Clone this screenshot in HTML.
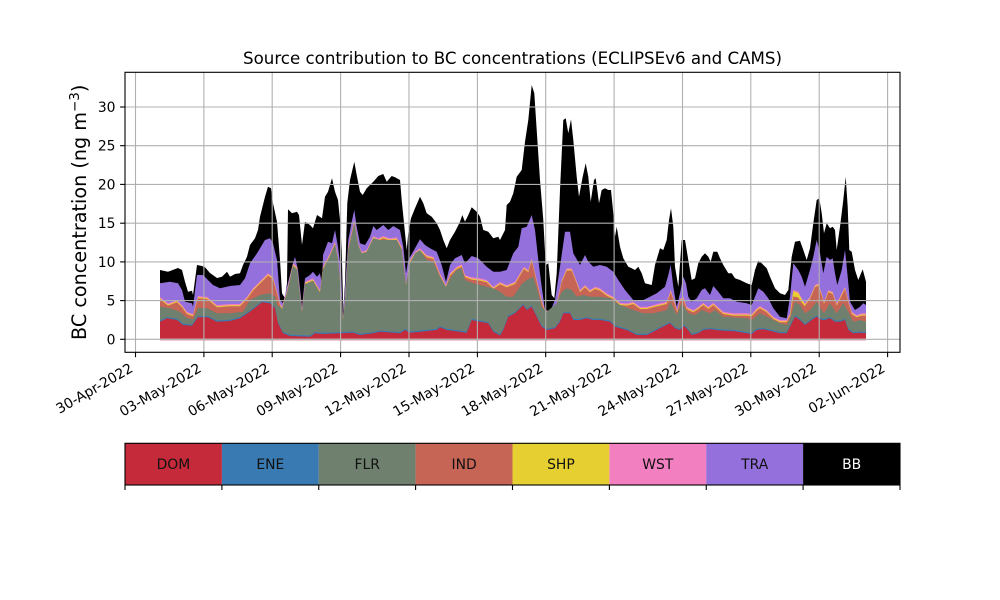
<!DOCTYPE html>
<html>
<head>
<meta charset="utf-8">
<style>
html,body{margin:0;padding:0;background:#fff;}
svg{display:block;}
text{font-family:"DejaVu Sans","Liberation Sans",sans-serif;}
</style>
</head>
<body>
<svg width="1000" height="600" viewBox="0 0 1000 600" xmlns="http://www.w3.org/2000/svg" xmlns:xlink="http://www.w3.org/1999/xlink">
<defs>
<clipPath id="pa"><rect x="125" y="72.3" width="775" height="267"/></clipPath>
<polygon id="wstp" points="160,339.3 160,297 168,303.3 177,300 182,305 187,311.7 193,314 198,296 207,296.7 217,305 230,304 240,304 247,296.7 253,288.3 263,278.3 268,273.3 273,276.7 277,291.7 280,303.3 282,306.7 287,290 293,263.3 297,266.7 302,310 305,281.7 313,278.3 320,290 323,266.7 330,253.3 335,241.7 338,256.7 341,290 343,318 345,300 348.3,246.7 354.3,220 358.3,243.3 361.7,251.7 366.7,250 373.3,236 378.3,238.3 383.3,236 390,238.3 396.7,237.3 401.7,246.7 406,283.3 410,260 415,251.7 420,248.3 426.7,255 433.3,256.7 440,273.3 446,285 450,273.3 456.7,266.7 461.7,264.3 465,275 471.7,277.3 480,278.3 486.7,280 493.3,286.7 500,282 506.7,285 515,281.7 520,273.3 524,266.7 528.3,270 531.7,258.3 536.7,280 541.7,300 545,310 551.7,311.7 556.7,303.3 561.7,280 566.7,268.3 571.7,268.3 575,276.7 580,290 585,285 590,290 595,286.7 600,288.3 606.7,293.3 613.3,296.7 620,302.7 626.7,303.3 633.3,301.7 640,306.7 646.7,306.7 653.3,305 660,303.3 666.7,301.7 670.7,290 674,300 677.3,310 680,299 683.3,296.7 686.7,306.7 693.3,310 698.3,306.7 703.3,302.7 708.3,306.7 713.3,302.7 718.3,307.3 723.3,311.7 733.3,313.3 746.7,313.3 751.7,314 756.7,308.3 760,306 766.7,310 773.3,316.7 780,320 786.7,320 790,313.3 793.3,290 798.3,291.7 801.7,298.3 805,303.3 810,296.7 815,285 818.3,283.3 821.7,293.3 824,301.7 828.3,290 832.7,291.7 836.7,303.3 841.7,293.3 845,286.7 848.3,300 851.7,311.7 856.7,315 861.7,313.3 866,313.3 866,339.3"/>
<polygon id="domp" points="160,340.5 160,321.7 167,318.3 177,320 183,325 192,325.7 198,317.3 208,317.3 217,321.7 230,321 240,318.3 250,311.7 262,302.3 270,303.3 275,308.3 278,323.3 283,333.3 290,336 310,336.7 315,333.3 323,334 340,333.3 353.3,332.7 360,335 373.3,333.3 380,331.7 400,333.3 405,330 410,332.7 420,331.7 436.7,330 440,327.3 446.7,330 466.7,332.7 471.7,320 480,321.7 488.3,323.3 493.3,331.7 500,335.5 503.3,330 508.3,316.7 515,313.3 520,308.3 523.3,305 526.7,310 531.7,306.7 536.7,316.7 541.7,326.7 546.7,330 555,328.3 560,321.7 563.3,313.3 570,313.3 573.3,320 580,320 586.7,318.3 593.3,320 600,320 610,321.7 615,326.7 626.7,330 636.7,335 646.7,335 653.3,331.7 660,328.3 670,323.3 675,328.3 680,330 683.3,326 686.7,328.3 691.7,335 698.3,333.3 703.3,330 710,329.3 716.7,330 723.3,330.7 733.3,331 746.7,333.3 751.7,334 756.7,330 763.3,329.3 770,330.7 780,333.3 786.7,333.3 790,326.7 795,316.7 800,320 805,325 811.7,320 816.7,316.7 821.7,320 825,320 830,318.3 835,321.7 840,321.7 845,320 848.3,330 853.3,333.3 860,332.7 866,333.3 866,340.5"/>
</defs>
<rect x="0" y="0" width="1000" height="600" fill="#fff"/>

<g clip-path="url(#pa)">
<!-- BB -->
<polygon fill="#000" points="160,339.3 160,270 168,271.7 178,268 182,270 185,281.7 188,291.7 192,290.7 193,295 197,265 202,266 205,267.3 210,273 217,278 222,276.7 227,271.7 230,276.7 235,274 240,273.3 243,265 247,256.7 250,245 255,238.3 258,230 260,216.7 265,196.7 268,186.7 271,188.3 273,203.3 277,221.7 280,260 282,293.3 285,298.3 287,283 288,209.3 292,213.3 297,211.7 299,215 302,245 305,221.7 310,225 313,228.3 317,215 322,218.3 325,196.7 328,191.7 332,178.3 335,191.7 338,200 340,220 341.7,250 343.3,311 345,283 347.3,203 350,180 354.3,161.7 356.7,175 360,191.7 362.7,195 366.7,188.3 373.3,181.7 378.3,176 383.3,174 386.7,181.7 391.7,176 395,177.3 400,180 401.7,200 405,233 406.7,250 408.3,233 411,218.3 415,208.3 420,196.7 423.3,203.3 426.7,213.3 431.7,216.7 436.7,223.3 440,230 443.3,240 446.7,248.3 450,240 455,231.7 460,221.7 462.3,215 465,221.7 468.3,215 471.7,207.3 476.7,211.7 480,216.7 483.3,230 488.3,231.7 493.3,238.3 498.3,236.7 500,240 505,230 506.7,205 510,201.7 513.3,193.3 516.7,176.7 521.7,170 525,141.7 528.3,120 531.7,85 534.3,93.3 536.7,130 540,180 543.3,220 545.7,265 548.3,263.3 551.7,295 554.3,298.3 556.7,273.3 560,190 563.3,120 565.7,118.3 568.3,133.3 571,119.3 573.3,140 576.7,176.7 579,196.7 582.7,176.7 585.7,163.3 588.3,176.7 590.7,201.7 594,180 595.7,178.3 597.7,193.3 599,203.3 601.7,190 605,188.3 608.3,190 611,190 613.3,213.3 615,236.7 616.7,226.7 620,246.7 623.3,258.3 628.3,266.7 631.7,268.3 635,270 638.3,266.7 641.7,273.3 645,283.3 651.7,285 655,265 660,248.3 663.3,250 666.7,240 669,220 671,208.3 673.3,226.7 675,266.7 678.3,286.7 681.7,240 685,240 688.3,260 691.7,280 695,278.3 698.3,263.3 701.7,256.7 705,253.3 708.3,256.7 710.7,261.7 713.3,251.7 717.3,251.7 720,258.3 723.3,265 728.3,273.3 731.7,273.3 735,278.3 740,280 746.7,283.3 751.7,285 755,270 758.3,260.7 761.7,263.3 766.7,268.3 770,276.7 775,288.3 780,293.3 785,295 788.3,290 791.7,256.7 795,241.7 800,240.7 803.3,250 806.7,260 810,248.3 813.3,223.3 816.7,200 819.3,198.3 821.7,213.3 824,233.3 826.7,223.3 830,228.3 832.7,226.7 835,230 836.7,250 840,226.7 843.3,200 845.7,176.7 847.7,206.7 849.3,250 851.7,251.7 855,270 858.3,280 862.7,269.3 866,281.7 866,339.3"/>
<!-- TRA -->
<polygon fill="#9370db" points="160,339.3 160,283.3 170,281.7 178,283.3 182,290 185,301.7 192,303.3 193,306.7 197,275 203,275 213,285 220,288.3 230,286 240,285 245,278.3 250,263.3 257,253.3 265,240 270,238.3 273,243.3 277,260 280,300 283,303.3 287,286.7 292,266.7 295,256.7 298,270 302,306.7 305,278.3 310,275 313,271.7 317,276.7 320,273.3 322,285 323,255 328,241.7 332,243.3 335,230 338,246.7 341,270 343,317 345,290 348.3,240 351.7,221.7 354.3,210 356.7,226.7 360,243.3 365,245 370,236.7 373.3,226 376.7,230 383.3,225 388.3,230 393.3,226 400,230 403.3,246.7 406,273.3 408.3,260 415,248.3 420,239.3 425,245 430,248.3 436.7,251.7 441.7,265 446,281.7 450,265 455,258.3 461.7,255 465,263.3 471.7,256 478.3,258.3 486.7,266.7 493.3,271.7 500,271.7 506.7,270 513.3,253.3 518.3,246.7 521.7,228.3 526.7,226.7 531.7,215 535,230 538.3,260 541.7,286.7 545,310 550,311.7 555,300 560,266.7 565,231.7 570,231.7 573.3,253.3 580,265 585,255 588.3,261.7 593.3,266.7 600,265 606.7,266.7 613.3,271.7 618.3,280 625,290 633.3,300 643.3,300 650,296.7 656.7,293.3 665,286.7 668.3,275 670.7,265 673.3,286.7 676.7,306.7 680,293.3 683.3,276.7 686,283.3 688.3,296.7 691.7,301.7 696.7,298.3 701.7,290 705,288.3 710,295 713.3,286 718.3,291.7 723.3,298.3 730,298.3 736.7,301.7 746.7,303.3 751.7,305 755,296.7 758.3,288.3 763.3,291.7 768.3,298.3 773.3,308.3 780,316.7 786.7,318.3 790,296.7 793.3,263.3 798.3,270 801.7,276.7 805,286.7 810,270 813.3,256.7 816.7,240 820,253.3 823.3,273.3 826.7,256.7 830,260 832.7,258.3 835,273.3 837.3,285 841.7,270 845,250 847.7,276.7 850,301.7 855,310 860,306.7 863.3,303.3 866,305 866,339.3"/>
<!-- WST / SHP / IND -->
<use href="#wstp" xlink:href="#wstp" fill="#f27fbf"/>
<use href="#wstp" xlink:href="#wstp" fill="#e6cf30" transform="translate(0,1.3)"/>
<use href="#wstp" xlink:href="#wstp" fill="#c66556" transform="translate(0,2.3)"/>
<!-- extra SHP bump near 28-May -->
<polygon fill="#e6cf30" points="790,315 793.3,291.3 798.3,293 801.7,299.5 805,304.5 805,306.5 801.7,302.5 798.3,297.5 793.3,296.5 790,317"/>
<!-- FLR -->
<polygon fill="#6f806f" points="160,339.3 160,306.7 170,308.3 180,311.7 187,318 193,319.3 198,308 207,308.3 217,313.3 230,313.3 243,311.7 250,300 260,295 270,293.3 275,296.7 278,306.7 280,306 282,309.3 287,292.5 293,265.8 297,269.2 302,312.5 305,284.2 313,280.8 320,292.5 323,269.2 330,255.8 335,244.2 338,259.2 341,292.5 343,320 345,302 348.3,250 354.3,223.3 358.3,245 361.7,253.3 366.7,251.7 373.3,238.3 380,240 396.7,240 401.7,250 406,285 410,263.3 415,253.3 420,250 426.7,260 433.3,261.7 440,276.7 446,286.7 450,278.3 456.7,270 461.7,268.3 465,280 473.3,283.3 480,285 486.7,286.7 493.3,288.3 500,291.7 506.7,296.7 513.3,296.7 521.7,284 526.7,280 533.3,276.7 538.3,293.3 541.7,306.7 546.7,311.7 556.7,303.3 561.7,291.7 566.7,288.3 571.7,290 576.7,296.7 583.3,295 590,296.7 600,296.7 610,298.3 615,301.7 620,305 633.3,310 643.3,313.3 653.3,313.3 660,311.7 666.7,310 670.7,301.7 676.7,315 681.7,303 688.3,313.3 695,315 701.7,310 710,313.3 715,310 723.3,316.7 746.7,318.3 751.7,320 760,313.3 770,318.3 780,323.3 786.7,325 790,318.3 795,301.7 800,305 805,313.3 810,310 816.7,301.7 821.7,310 824,313.3 830,303.3 836.7,313.3 843.3,303.3 848.3,311.7 853.3,321.7 860,320 866,321.7 866,339.3"/>
<!-- ENE + DOM -->
<use href="#domp" xlink:href="#domp" fill="#3a7ab2" transform="translate(0,-1.2)"/>
<use href="#domp" xlink:href="#domp" fill="#c42a39"/>
</g>
<!-- pink baseline band -->
<rect x="160" y="338.6" width="706" height="2" fill="#e0a3ac"/>

<!-- grid -->
<g stroke="#b0b0b0" stroke-width="1.1">
<line x1="125" x2="900" y1="339.3" y2="339.3"/>
<line x1="125" x2="900" y1="300.6" y2="300.6"/>
<line x1="125" x2="900" y1="261.9" y2="261.9"/>
<line x1="125" x2="900" y1="223.2" y2="223.2"/>
<line x1="125" x2="900" y1="184.4" y2="184.4"/>
<line x1="125" x2="900" y1="145.7" y2="145.7"/>
<line x1="125" x2="900" y1="107.0" y2="107.0"/>
<line y1="72.3" y2="352.3" x1="135.5" x2="135.5"/>
<line y1="72.3" y2="352.3" x1="203.9" x2="203.9"/>
<line y1="72.3" y2="352.3" x1="272.2" x2="272.2"/>
<line y1="72.3" y2="352.3" x1="340.6" x2="340.6"/>
<line y1="72.3" y2="352.3" x1="409.0" x2="409.0"/>
<line y1="72.3" y2="352.3" x1="477.4" x2="477.4"/>
<line y1="72.3" y2="352.3" x1="545.7" x2="545.7"/>
<line y1="72.3" y2="352.3" x1="614.1" x2="614.1"/>
<line y1="72.3" y2="352.3" x1="682.5" x2="682.5"/>
<line y1="72.3" y2="352.3" x1="750.8" x2="750.8"/>
<line y1="72.3" y2="352.3" x1="819.2" x2="819.2"/>
<line y1="72.3" y2="352.3" x1="887.6" x2="887.6"/>
</g>

<!-- spines -->
<rect x="125" y="72.3" width="775" height="280" fill="none" stroke="#000" stroke-width="1.1"/>

<!-- ticks -->
<g stroke="#000" stroke-width="1.1">
<line x1="120.1" x2="125" y1="339.3" y2="339.3"/>
<line x1="120.1" x2="125" y1="300.6" y2="300.6"/>
<line x1="120.1" x2="125" y1="261.9" y2="261.9"/>
<line x1="120.1" x2="125" y1="223.2" y2="223.2"/>
<line x1="120.1" x2="125" y1="184.4" y2="184.4"/>
<line x1="120.1" x2="125" y1="145.7" y2="145.7"/>
<line x1="120.1" x2="125" y1="107.0" y2="107.0"/>
<line y1="352.3" y2="357.2" x1="135.5" x2="135.5"/>
<line y1="352.3" y2="357.2" x1="203.9" x2="203.9"/>
<line y1="352.3" y2="357.2" x1="272.2" x2="272.2"/>
<line y1="352.3" y2="357.2" x1="340.6" x2="340.6"/>
<line y1="352.3" y2="357.2" x1="409.0" x2="409.0"/>
<line y1="352.3" y2="357.2" x1="477.4" x2="477.4"/>
<line y1="352.3" y2="357.2" x1="545.7" x2="545.7"/>
<line y1="352.3" y2="357.2" x1="614.1" x2="614.1"/>
<line y1="352.3" y2="357.2" x1="682.5" x2="682.5"/>
<line y1="352.3" y2="357.2" x1="750.8" x2="750.8"/>
<line y1="352.3" y2="357.2" x1="819.2" x2="819.2"/>
<line y1="352.3" y2="357.2" x1="887.6" x2="887.6"/>
</g>

<!-- y tick labels -->
<g font-size="13.9" text-anchor="end" fill="#000">
<text x="115.5" y="344.3">0</text>
<text x="115.5" y="305.6">5</text>
<text x="115.5" y="266.9">10</text>
<text x="115.5" y="228.2">15</text>
<text x="115.5" y="189.4">20</text>
<text x="115.5" y="150.7">25</text>
<text x="115.5" y="112.0">30</text>
</g>

<!-- x tick labels -->
<g font-size="13.9" text-anchor="end" fill="#000">
<text x="133.9" y="371" transform="rotate(-30 133.9 371)">30-Apr-2022</text>
<text x="202.3" y="371" transform="rotate(-30 202.3 371)">03-May-2022</text>
<text x="270.6" y="371" transform="rotate(-30 270.6 371)">06-May-2022</text>
<text x="339.0" y="371" transform="rotate(-30 339.0 371)">09-May-2022</text>
<text x="407.4" y="371" transform="rotate(-30 407.4 371)">12-May-2022</text>
<text x="475.8" y="371" transform="rotate(-30 475.8 371)">15-May-2022</text>
<text x="544.1" y="371" transform="rotate(-30 544.1 371)">18-May-2022</text>
<text x="612.5" y="371" transform="rotate(-30 612.5 371)">21-May-2022</text>
<text x="680.9" y="371" transform="rotate(-30 680.9 371)">24-May-2022</text>
<text x="749.2" y="371" transform="rotate(-30 749.2 371)">27-May-2022</text>
<text x="817.6" y="371" transform="rotate(-30 817.6 371)">30-May-2022</text>
<text x="886.0" y="371" transform="rotate(-30 886.0 371)">02-Jun-2022</text>
</g>

<!-- title -->
<text x="512.5" y="64" font-size="16.67" text-anchor="middle" fill="#000">Source contribution to BC concentrations (ECLIPSEv6 and CAMS)</text>

<!-- y label -->
<text x="86" y="212.3" font-size="19.2" text-anchor="middle" fill="#000" transform="rotate(-90 86 212.3)">BC concentration (ng m<tspan font-size="13.5" dy="-7">−3</tspan><tspan dy="7">)</tspan></text>

<!-- legend colorbar -->
<rect x="125" y="443.3" width="96.9" height="41.7" fill="#c42a39"/>
<rect x="221.9" y="443.3" width="96.9" height="41.7" fill="#3a7ab2"/>
<rect x="318.75" y="443.3" width="96.9" height="41.7" fill="#6f806f"/>
<rect x="415.6" y="443.3" width="96.9" height="41.7" fill="#c66556"/>
<rect x="512.5" y="443.3" width="96.9" height="41.7" fill="#e6cf30"/>
<rect x="609.4" y="443.3" width="96.9" height="41.7" fill="#f27fbf"/>
<rect x="706.25" y="443.3" width="96.9" height="41.7" fill="#9370db"/>
<rect x="803.1" y="443.3" width="96.9" height="41.7" fill="#000"/>
<rect x="125" y="443.3" width="775" height="41.7" fill="none" stroke="#000" stroke-width="1.1"/>
<g stroke="#000" stroke-width="1.1">
<line x1="125" x2="125" y1="485" y2="490"/>
<line x1="221.9" x2="221.9" y1="485" y2="490"/>
<line x1="318.75" x2="318.75" y1="485" y2="490"/>
<line x1="415.6" x2="415.6" y1="485" y2="490"/>
<line x1="512.5" x2="512.5" y1="485" y2="490"/>
<line x1="609.4" x2="609.4" y1="485" y2="490"/>
<line x1="706.25" x2="706.25" y1="485" y2="490"/>
<line x1="803.1" x2="803.1" y1="485" y2="490"/>
<line x1="900" x2="900" y1="485" y2="490"/>
</g>
<g font-size="13.9" text-anchor="middle" fill="#111">
<text x="173.4" y="469.2">DOM</text>
<text x="270.3" y="469.2">ENE</text>
<text x="367.2" y="469.2">FLR</text>
<text x="464.1" y="469.2">IND</text>
<text x="560.9" y="469.2">SHP</text>
<text x="657.8" y="469.2">WST</text>
<text x="754.7" y="469.2">TRA</text>
<text x="851.6" y="469.2" fill="#fff">BB</text>
</g>
</svg>
</body>
</html>
